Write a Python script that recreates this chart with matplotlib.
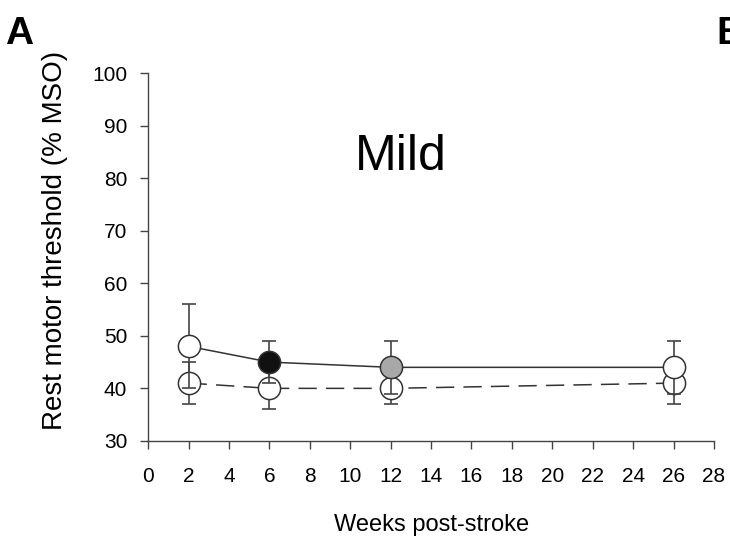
import matplotlib
matplotlib.use("Agg")
import matplotlib.pyplot as plt

# data
weeks = [2, 6, 12, 26]
solid_mean = [48, 45, 44, 44]
solid_err = [8, 4, 5, 5]
solid_fill = ["white", "#111111", "#a8a8a8", "white"]
dashed_mean = [41, 40, 40, 41]
dashed_err = [4, 4, 3, 4]

x_ticks = list(range(0, 29, 2))
y_ticks = list(range(30, 101, 10))

plt.rcParams["font.family"] = ["Liberation Sans", "DejaVu Sans"]

fig = plt.figure(figsize=(7.3, 5.41), dpi=100)
ax = fig.add_axes([0.203, 0.185, 0.775, 0.68])

line_col = "#333333"
err_col = "#444444"

ax.errorbar(weeks, dashed_mean, yerr=dashed_err, fmt="none", ecolor=err_col,
            elinewidth=1.2, capsize=5, capthick=1.2, zorder=2)
ax.plot(weeks, dashed_mean, color=line_col, lw=1.1, linestyle=(0, (12, 6)), zorder=3)
for x, y in zip(weeks, dashed_mean):
    ax.plot(x, y, "o", ms=16, mfc="white", mec=line_col, mew=1.1, zorder=3)

ax.errorbar(weeks, solid_mean, yerr=solid_err, fmt="none", ecolor=err_col,
            elinewidth=1.2, capsize=5, capthick=1.2, zorder=4)
ax.plot(weeks, solid_mean, color=line_col, lw=1.1, zorder=4)
for x, y, c in zip(weeks, solid_mean, solid_fill):
    ax.plot(x, y, "o", ms=16, mfc=c, mec=line_col, mew=1.1, zorder=5)

ax.text(12.5, 84, "Mild", fontsize=36, ha="center", va="center")

ax.set_xlim(0, 28)
ax.set_ylim(30, 100)
ax.set_xticks(x_ticks)
ax.set_yticks(y_ticks)
ax.spines["top"].set_visible(False)
ax.spines["right"].set_visible(False)
for s in ("left", "bottom"):
    ax.spines[s].set_color("#444444")
    ax.spines[s].set_linewidth(1.0)
ax.tick_params(direction="out", length=6, width=1.0, color="#444444", labelsize=15)
ax.tick_params(axis="x", pad=13)
ax.tick_params(axis="y", pad=9)
ax.set_xlabel("Weeks post-stroke", fontsize=17)
ax.xaxis.set_label_coords(0.5, -0.2)
ax.set_ylabel("Rest motor threshold (% MSO)", fontsize=20)
ax.yaxis.set_label_coords(-0.142, 0.546)

fig.text(0.007, 0.918, "A", fontsize=28, fontweight="bold")
fig.text(0.982, 0.918, "B", fontsize=28, fontweight="bold")
fig.text(0.02, -0.05, "C", fontsize=28, fontweight="bold")
fig.text(0.982, -0.05, "D", fontsize=28, fontweight="bold")

fig.savefig("out.png", dpi=100)
